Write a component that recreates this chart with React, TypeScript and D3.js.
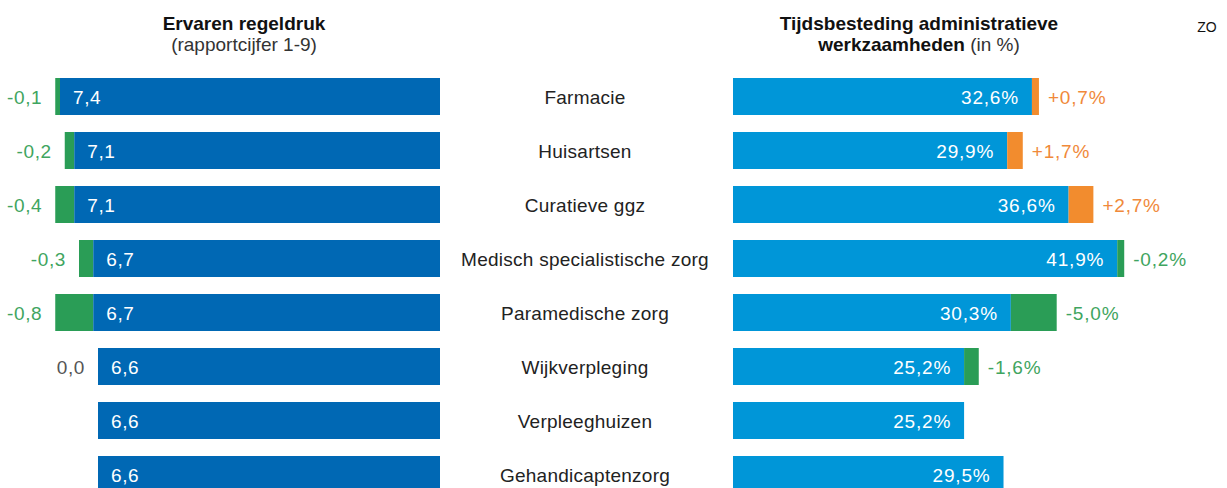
import React from "react";
import * as d3 from "d3";

const categories = [
  "Farmacie",
  "Huisartsen",
  "Curatieve ggz",
  "Medisch specialistische zorg",
  "Paramedische zorg",
  "Wijkverpleging",
  "Verpleeghuizen",
  "Gehandicaptenzorg",
];
const regeldruk = [7.4, 7.1, 7.1, 6.7, 6.7, 6.6, 6.6, 6.6];
const regeldrukDelta: (number | null)[] = [-0.1, -0.2, -0.4, -0.3, -0.8, 0.0, null, null];
const tijd = [32.6, 29.9, 36.6, 41.9, 30.3, 25.2, 25.2, 29.5];
const tijdDelta: (number | null)[] = [0.7, 1.7, 2.7, -0.2, -5.0, -1.6, null, null];

const W = 1227;
const H = 488;
const DARK = "#0068b4";
const LIGHT = "#0096d8";
const GREEN = "#2a9d56";
const ORANGE = "#f28c2e";
const GREEN_TXT = "#3fa560";
const ORANGE_TXT = "#f0893a";
const FONT = "'Liberation Sans', Arial, sans-serif";
const FS = 19;

const fmt = (v: number, d = 1) => v.toFixed(d).replace(".", ",");
const fmtSigned = (v: number) => (v > 0 ? "+" : "") + fmt(v) + "%";

export default function App() {
  const step = 54;
  const bh = 37;
  const y = d3
    .scaleBand<string>()
    .domain(categories)
    .range([78, 78 + step * categories.length])
    .paddingInner(0)
    .paddingOuter(0);

  const xl = d3.scaleLinear().domain([-0.6, 7.4]).range([440, 60]);
  const xr = d3.scaleLinear().domain([0, 50]).range([733, 733 + 9.17 * 50]);

  return (
    <svg width={W} height={H} style={{ position: "absolute", left: 0, top: 0 }} fontFamily={FONT}>
      <rect width={W} height={H} fill="#fff" />
      <text x={244} y={30} textAnchor="middle" fontSize={FS} fontWeight="bold" fill="#111">
        Ervaren regeldruk
      </text>
      <text x={244} y={51} textAnchor="middle" fontSize={FS} fill="#333">
        (rapportcijfer 1-9)
      </text>
      <text x={919} y={30} textAnchor="middle" fontSize={FS} fontWeight="bold" fill="#111">
        Tijdsbesteding administratieve
      </text>
      <text x={919} y={51} textAnchor="middle" fontSize={FS} fill="#111">
        <tspan fontWeight="bold">werkzaamheden</tspan>
        <tspan fill="#333"> (in %)</tspan>
      </text>
      <text x={1207} y={32} textAnchor="middle" fontSize={14} fill="#111">
        ZO
      </text>

      {categories.map((c, i) => {
        const top = y(c) as number;
        const cy = top + bh / 2 + 7;
        const v = regeldruk[i];
        const d = regeldrukDelta[i];
        const barLeft = xl(v);
        const prev = d == null ? v : v - d;
        const extLeft = xl(prev);
        const lblRight = (d != null && d !== 0 ? extLeft : barLeft) - 13;

        const t = tijd[i];
        const td = tijdDelta[i];
        const barRight = xr(t);
        let extR = barRight;
        if (td != null) {
          const w = Math.max(7, Math.abs(xr(td) - xr(0)));
          extR = barRight + w;
        }
        return (
          <g key={c}>
            {d != null && d !== 0 && (
              <rect x={extLeft} y={top} width={barLeft - extLeft} height={bh} fill={GREEN} />
            )}
            <rect x={barLeft} y={top} width={440 - barLeft} height={bh} fill={DARK} />
            <text x={barLeft + 13} y={cy} fontSize={FS} letterSpacing={0.6} fill="#fff">
              {fmt(v)}
            </text>
            {d != null && (
              <text x={lblRight} y={cy} textAnchor="end" fontSize={FS} letterSpacing={0.6} fill={d === 0 ? "#555" : GREEN_TXT}>
                {fmt(d)}
              </text>
            )}
            <text x={585} y={cy} textAnchor="middle" fontSize={FS} letterSpacing={0.25} fill="#222">
              {c}
            </text>
            <rect x={733} y={top} width={barRight - 733} height={bh} fill={LIGHT} />
            {td != null && (
              <rect x={barRight} y={top} width={extR - barRight} height={bh} fill={td > 0 ? ORANGE : GREEN} />
            )}
            <text x={barRight - 13} y={cy} textAnchor="end" fontSize={FS} letterSpacing={0.8} fill="#fff">
              {fmt(t)}%
            </text>
            {td != null && (
              <text x={extR + 9} y={cy} fontSize={FS} letterSpacing={0.8} fill={td > 0 ? ORANGE_TXT : GREEN_TXT}>
                {fmtSigned(td)}
              </text>
            )}
          </g>
        );
      })}
    </svg>
  );
}
